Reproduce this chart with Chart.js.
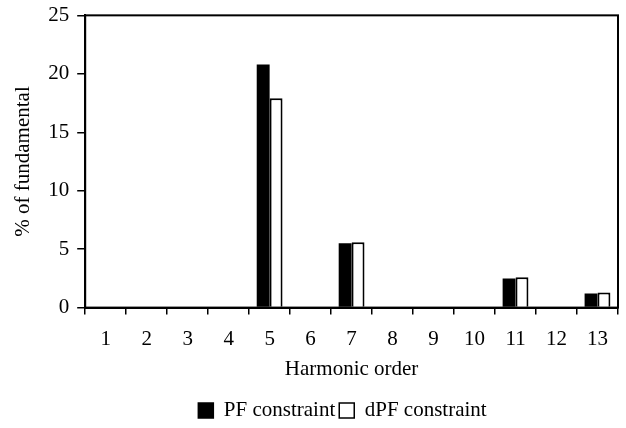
<!DOCTYPE html>
<html>
<head>
<meta charset="utf-8">
<script src="https://cdn.jsdelivr.net/npm/chart.js@4.4.1/dist/chart.umd.min.js"></script>
<style>
  html,body{margin:0;padding:0;background:#fff;}
  #wrap{width:626px;height:428px;}
</style>
</head>
<body>
<div id="wrap"><canvas id="chart" width="626" height="428"></canvas></div>
<script>
// harmonic orders and percent of fundamental
const orders = ["1","2","3","4","5","6","7","8","9","10","11","12","13"];
const pfValues  = [0,0,0,0,20.8,0,5.5,0,0,0,2.5,0,1.2];
const dpfValues = [0,0,0,0,17.9,0,5.6,0,0,0,2.6,0,1.3];
const yTicks = [0,5,10,15,20,25];

const serif = "'Liberation Serif','DejaVu Serif',serif";
const fs = 21;

// box around plot area (top + right edges)
const frame = {
  id:"frame",
  afterDraw(chart){
    const a = chart.chartArea, c = chart.ctx;
    c.save();
    c.strokeStyle = "#000"; c.lineWidth = 2;
    c.strokeRect(a.left, a.top, a.right-a.left, a.bottom-a.top);
    c.restore();
  }
};

// legend in the original sits a bit right of the canvas centre and lower
const legendShift = {
  id:"legendShift",
  afterLayout(chart){
    const lg = chart.legend;
    if(lg){ lg.left += 28; lg.right += 28; lg.top += 3; lg.bottom += 3; }
  }
};

new Chart(document.getElementById("chart"),{
  type:"bar",
  data:{
    labels:orders,
    datasets:[
      {label:"PF constraint", data:pfValues, backgroundColor:"#000", borderColor:"#000", borderWidth:0},
      {label:"dPF constraint", data:dpfValues, backgroundColor:"#fff", borderColor:"#000", borderWidth:2}
    ]
  },
  options:{
    responsive:false,
    animation:false,
    devicePixelRatio:1,
    layout:{padding:{top:10,right:8,left:11,bottom:0}},
    datasets:{bar:{categoryPercentage:0.63, barPercentage:1.0}},
    plugins:{
      legend:{
        position:"bottom",
        labels:{
          color:"#000", font:{family:serif,size:fs},
          boxWidth:15, boxHeight:15, padding:4,
          generateLabels(chart){
            return chart.data.datasets.map((d,i)=>({
              text:d.label, fillStyle:d.backgroundColor, strokeStyle:"#000",
              lineWidth:1.5, datasetIndex:i, fontColor:"#000"
            }));
          }
        }
      },
      tooltip:{enabled:false}
    },
    scales:{
      x:{
        offset:true,
        grid:{display:true, drawOnChartArea:false, offset:true, color:"#000", tickLength:7, lineWidth:1.5},
        border:{color:"#000", width:2},
        ticks:{color:"#000", font:{family:serif,size:fs}, padding:12},
        title:{display:true, text:"Harmonic order", color:"#000", font:{family:serif,size:fs}, padding:{top:-7,bottom:11}}
      },
      y:{
        min:0, max:25,
        afterBuildTicks(axis){ axis.ticks = yTicks.map(v=>({value:v})); },
        grid:{display:true, drawOnChartArea:false, color:"#000", tickLength:8, lineWidth:1.5},
        border:{color:"#000", width:2},
        ticks:{color:"#000", font:{family:serif,size:fs,lineHeight:0.7}, padding:8},
        title:{display:true, text:"% of fundamental", color:"#000", font:{family:serif,size:fs}, padding:{top:0,bottom:4}}
      }
    }
  },
  plugins:[frame, legendShift]
});
</script>
</body>
</html>
